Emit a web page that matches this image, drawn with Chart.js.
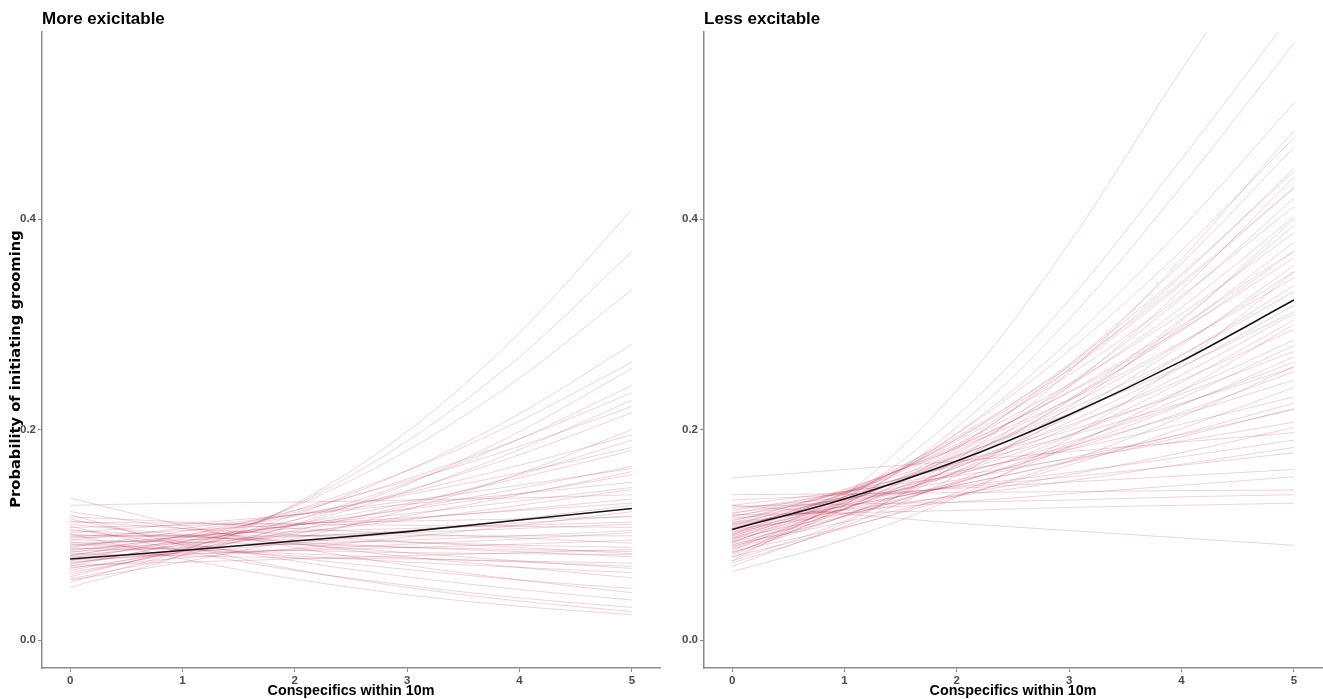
<!DOCTYPE html>
<html><head><meta charset="utf-8">
<script src="https://cdn.jsdelivr.net/npm/chart.js@4.4.1/dist/chart.umd.min.js"></script>
<style>
html,body{margin:0;padding:0;background:#fff;width:1323px;height:699px;overflow:hidden}
canvas{position:absolute;top:0}
#c1{left:0}
#c2{left:662px}
</style></head><body>
<canvas id="c1" width="665" height="699"></canvas>
<canvas id="c2" width="661" height="699"></canvas>
<script>
// x positions of the curves (conspecifics within 10m)
const xValues = [0, 1, 2, 3, 4, 5];
const xTicks = [0, 1, 2, 3, 4, 5];
const yTicks = [0.0, 0.2, 0.4];

const leftTitle = 'More exicitable';
const rightTitle = 'Less excitable';
const xTitle = 'Conspecifics within 10m';
const yTitle = 'Probability of initiating grooming';

// mean curves (black)
const leftMean = [0.077, 0.085, 0.094, 0.103, 0.114, 0.125];
const rightMean = [0.105, 0.134, 0.170, 0.214, 0.265, 0.323];

// posterior draws, "More exicitable" panel
const leftDraws = [
  [0.050,0.081,0.129,0.198,0.292,0.409],
  [0.055,0.085,0.128,0.189,0.269,0.369],
  [0.060,0.088,0.127,0.180,0.249,0.333],
  [0.062,0.086,0.119,0.161,0.215,0.281],
  [0.070,0.093,0.123,0.161,0.208,0.264],
  [0.058,0.080,0.110,0.148,0.198,0.258],
  [0.066,0.087,0.114,0.149,0.191,0.242],
  [0.075,0.096,0.121,0.153,0.191,0.235],
  [0.064,0.084,0.109,0.141,0.181,0.228],
  [0.080,0.099,0.123,0.151,0.184,0.222],
  [0.072,0.091,0.114,0.142,0.176,0.216],
  [0.083,0.099,0.118,0.140,0.166,0.195],
  [0.068,0.084,0.104,0.128,0.157,0.190],
  [0.088,0.103,0.119,0.138,0.159,0.183],
  [0.078,0.093,0.110,0.130,0.154,0.180],
  [0.095,0.106,0.119,0.132,0.147,0.163],
  [0.073,0.086,0.101,0.118,0.138,0.160],
  [0.085,0.097,0.109,0.124,0.139,0.157],
  [0.102,0.110,0.119,0.129,0.139,0.150],
  [0.080,0.090,0.102,0.114,0.128,0.143],
  [0.128,0.130,0.131,0.133,0.135,0.138],
  [0.090,0.098,0.106,0.115,0.124,0.134],
  [0.098,0.104,0.110,0.116,0.123,0.130],
  [0.069,0.078,0.087,0.098,0.109,0.122],
  [0.107,0.109,0.111,0.113,0.115,0.117],
  [0.092,0.095,0.099,0.102,0.106,0.110],
  [0.112,0.111,0.110,0.109,0.108,0.107],
  [0.084,0.088,0.091,0.095,0.099,0.104],
  [0.076,0.081,0.086,0.091,0.096,0.102],
  [0.117,0.112,0.106,0.101,0.097,0.092],
  [0.100,0.098,0.095,0.093,0.090,0.088],
  [0.095,0.093,0.091,0.088,0.086,0.084],
  [0.087,0.086,0.085,0.083,0.082,0.081],
  [0.104,0.099,0.093,0.088,0.084,0.079],
  [0.082,0.080,0.078,0.077,0.075,0.073],
  [0.110,0.100,0.091,0.083,0.075,0.068],
  [0.093,0.086,0.080,0.074,0.069,0.064],
  [0.122,0.106,0.092,0.079,0.069,0.059],
  [0.105,0.091,0.078,0.067,0.057,0.049],
  [0.135,0.109,0.088,0.071,0.057,0.045],
  [0.115,0.093,0.075,0.060,0.048,0.038],
  [0.108,0.085,0.066,0.052,0.040,0.031],
  [0.119,0.090,0.067,0.050,0.037,0.027],
  [0.101,0.077,0.058,0.043,0.032,0.024],
  [0.057,0.074,0.096,0.124,0.158,0.200],
  [0.086,0.092,0.098,0.104,0.111,0.118],
  [0.079,0.082,0.085,0.088,0.091,0.095],
  [0.097,0.100,0.103,0.106,0.109,0.112],
  [0.091,0.086,0.082,0.078,0.074,0.070],
  [0.074,0.083,0.092,0.103,0.115,0.128],
  [0.089,0.098,0.109,0.120,0.132,0.145],
  [0.099,0.099,0.099,0.099,0.099,0.099],
  [0.071,0.074,0.077,0.080,0.083,0.086],
  [0.113,0.106,0.100,0.093,0.088,0.082],
  [0.081,0.094,0.109,0.125,0.144,0.165]
];

// posterior draws, "Less excitable" panel
const rightDraws = [
  [0.075,0.137,0.237,0.377,0.542,0.698],
  [0.080,0.133,0.213,0.323,0.457,0.597],
  [0.078,0.128,0.202,0.305,0.431,0.567],
  [0.085,0.131,0.196,0.284,0.391,0.510],
  [0.070,0.111,0.171,0.255,0.362,0.484],
  [0.092,0.136,0.196,0.275,0.370,0.477],
  [0.082,0.124,0.182,0.261,0.358,0.468],
  [0.088,0.129,0.184,0.257,0.346,0.448],
  [0.095,0.136,0.191,0.262,0.348,0.445],
  [0.075,0.113,0.167,0.241,0.333,0.440],
  [0.098,0.138,0.191,0.257,0.338,0.429],
  [0.087,0.125,0.177,0.243,0.325,0.420],
  [0.101,0.139,0.189,0.252,0.327,0.412],
  [0.093,0.130,0.179,0.241,0.316,0.402],
  [0.083,0.118,0.166,0.228,0.305,0.394],
  [0.104,0.140,0.186,0.243,0.310,0.387],
  [0.090,0.124,0.170,0.227,0.297,0.378],
  [0.097,0.131,0.175,0.229,0.294,0.369],
  [0.108,0.142,0.184,0.235,0.295,0.363],
  [0.086,0.118,0.160,0.214,0.280,0.356],
  [0.100,0.132,0.173,0.223,0.282,0.350],
  [0.111,0.143,0.182,0.228,0.283,0.344],
  [0.094,0.125,0.164,0.212,0.270,0.337],
  [0.106,0.136,0.174,0.219,0.271,0.331],
  [0.099,0.128,0.164,0.207,0.259,0.318],
  [0.113,0.141,0.175,0.215,0.260,0.312],
  [0.089,0.117,0.151,0.194,0.245,0.304],
  [0.110,0.136,0.168,0.204,0.247,0.295],
  [0.103,0.128,0.159,0.195,0.237,0.285],
  [0.117,0.140,0.168,0.199,0.234,0.274],
  [0.096,0.120,0.149,0.183,0.223,0.269],
  [0.107,0.130,0.157,0.188,0.224,0.264],
  [0.120,0.141,0.166,0.194,0.225,0.259],
  [0.102,0.124,0.150,0.181,0.216,0.255],
  [0.114,0.134,0.158,0.184,0.214,0.247],
  [0.091,0.112,0.137,0.166,0.201,0.240],
  [0.123,0.140,0.160,0.181,0.205,0.231],
  [0.109,0.127,0.147,0.170,0.196,0.225],
  [0.118,0.134,0.152,0.173,0.195,0.219],
  [0.128,0.141,0.156,0.172,0.189,0.207],
  [0.105,0.120,0.138,0.157,0.178,0.202],
  [0.154,0.162,0.170,0.179,0.188,0.197],
  [0.121,0.133,0.146,0.159,0.174,0.190],
  [0.112,0.124,0.137,0.151,0.167,0.183],
  [0.125,0.135,0.145,0.155,0.166,0.178],
  [0.133,0.138,0.144,0.150,0.156,0.162],
  [0.116,0.123,0.131,0.139,0.147,0.155],
  [0.138,0.139,0.140,0.141,0.142,0.1425],
  [0.127,0.129,0.131,0.133,0.136,0.138],
  [0.119,0.121,0.123,0.126,0.128,0.130],
  [0.128,0.120,0.111,0.104,0.097,0.090],
  [0.065,0.095,0.136,0.192,0.263,0.350],
  [0.073,0.108,0.156,0.221,0.303,0.400],
  [0.079,0.106,0.140,0.184,0.237,0.300],
  [0.084,0.107,0.136,0.170,0.212,0.260],
  [0.110,0.127,0.147,0.169,0.193,0.220],
  [0.100,0.140,0.193,0.260,0.340,0.430],
  [0.097,0.125,0.160,0.202,0.252,0.310],
  [0.105,0.139,0.183,0.236,0.299,0.370],
  [0.093,0.118,0.149,0.186,0.230,0.280]
];

const FONT = "'Liberation Sans', Arial, sans-serif";
const AXIS_GREY = '#8c8c8c';
const TICK_TEXT = '#4d4d4d';
const DRAW_COLOR = 'rgba(181, 32, 72, 0.2)';

function toPoints(vals) {
  return xValues.map((x, i) => ({ x: x, y: vals[i] }));
}

// y-axis title, placed where the reference puts it (slightly below the axis centre)
const yTitlePlugin = {
  id: 'yTitleText',
  afterDraw(chart, args, opts) {
    if (!opts || !opts.text) return;
    const ctx = chart.ctx;
    ctx.save();
    ctx.translate(opts.x, opts.y);
    ctx.rotate(-Math.PI / 2);
    ctx.font = "bold 14.7px 'DejaVu Sans', 'Liberation Sans', sans-serif";
    ctx.fillStyle = '#000';
    ctx.textAlign = 'center';
    ctx.textBaseline = 'middle';
    ctx.fillText(opts.text, 0, 0);
    ctx.restore();
  }
};

function makeChart(id, title, mean, draws, showYTitle, padRight) {
  const datasets = [{
    data: toPoints(mean), borderColor: '#151515', borderWidth: 1.6
  }];
  draws.forEach(d => datasets.push({
    data: toPoints(d), borderColor: DRAW_COLOR, borderWidth: 1
  }));
  return new Chart(document.getElementById(id), {
    type: 'line',
    data: { datasets: datasets },
    plugins: [yTitlePlugin],
    options: {
      responsive: false,
      animation: false,
      events: [],
      layout: { padding: { left: 0, right: padRight, top: 0, bottom: 0 } },
      elements: {
        point: { radius: 0 },
        line: { cubicInterpolationMode: 'monotone', fill: false }
      },
      plugins: {
        legend: { display: false },
        tooltip: { enabled: false },
        yTitleText: showYTitle ? { text: yTitle, x: 16, y: 369 } : { text: '' },
        title: {
          display: true, text: title, align: 'start', fullSize: false,
          color: '#000',
          font: { family: FONT, size: 17, weight: 'bold', lineHeight: 1.2 },
          padding: { top: 9, bottom: 2.6 }
        }
      },
      scales: {
        x: {
          type: 'linear', min: -0.25, max: 5.25,
          afterBuildTicks: s => { s.ticks = xTicks.map(v => ({ value: v })); },
          afterFit: s => { s.height = 31; },
          ticks: {
            color: TICK_TEXT, padding: 3, maxRotation: 0, autoSkip: false,
            font: { family: FONT, size: 11.5, weight: 'bold', lineHeight: 1 },
            callback: v => String(v)
          },
          grid: { display: true, drawOnChartArea: false, drawTicks: true, tickLength: 4, color: AXIS_GREY, lineWidth: 1 },
          border: { display: true, color: AXIS_GREY, width: 1.5 },
          title: {
            display: true, text: xTitle, color: '#000',
            font: { family: FONT, size: 14.3, weight: 'bold', lineHeight: 1 },
            padding: { top: 0, bottom: 1 }
          }
        },
        y: {
          type: 'linear', min: -0.0266, max: 0.5777,
          afterBuildTicks: s => { s.ticks = yTicks.map(v => ({ value: v })); },
          afterFit: s => { s.width = 42; },
          ticks: {
            color: TICK_TEXT, padding: 2, autoSkip: false,
            font: { family: FONT, size: 11.5, weight: 'bold', lineHeight: 1 },
            callback: v => Number(v).toFixed(1)
          },
          grid: { display: true, drawOnChartArea: false, drawTicks: true, tickLength: 4, color: AXIS_GREY, lineWidth: 1 },
          border: { display: true, color: AXIS_GREY, width: 1.5 },
          title: { display: false }
        }
      }
    }
  });
}

makeChart('c1', leftTitle, leftMean, leftDraws, true, 5);
makeChart('c2', rightTitle, rightMean, rightDraws, false, 1);
</script>
</body></html>
